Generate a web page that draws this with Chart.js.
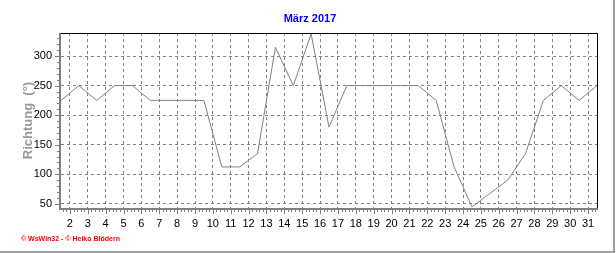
<!DOCTYPE html>
<html>
<head>
<meta charset="utf-8">
<script src="https://cdn.jsdelivr.net/npm/chart.js@4"></script>
<style>
  html, body { margin: 0; padding: 0; background: #fff; }
  #wrap { width: 616px; height: 253px; }
</style>
</head>
<body>
<div id="wrap"><canvas id="chart" width="616" height="253"></canvas></div>
<script>
// --- Daten: Windrichtung März 2017 (Tagesmittel) ---
const tage = [1, 2, 3, 4, 5, 6, 7, 8, 9, 10, 11, 12, 13, 14, 15, 16,
              17, 18, 19, 20, 21, 22, 23, 24, 25, 26, 27, 28, 29, 30, 31];
const richtung = [225, 250, 225, 250, 250, 225, 225, 225, 225, 112.5, 112.5, 135, 315, 250, 337.5, 180,
                  250, 250, 250, 250, 250, 225, 112.5, 45, 67.5, 90, 135, 225, 250, 225, 250];
const xTickLabels = [2, 3, 4, 5, 6, 7, 8, 9, 10, 11, 12, 13, 14, 15, 16, 17,
                     18, 19, 20, 21, 22, 23, 24, 25, 26, 27, 28, 29, 30, 31];
const yTickLabels = [50, 100, 150, 200, 250, 300];

const titel = 'März 2017';
const yTitel = 'Richtung  (°)';
const footer = '© WsWin32 - © Heiko Blödern';

// Werte liegen jeweils in der Tagesmitte
const punkte = tage.map((t, i) => ({ x: t + 0.5, y: richtung[i] }));

const GRID = '#808080';
const AXIS = '#808080';

// Rahmen, Achsen, kleine Striche, Titel, Fußzeile
const deko = {
    id: 'deko',
    afterDraw(chart) {
        const ctx = chart.ctx;
        const a = chart.chartArea;
        const xs = chart.scales.x;
        const ys = chart.scales.y;
        ctx.save();

        // schwarzer Rahmen oben/rechts
        ctx.strokeStyle = '#000';
        ctx.lineWidth = 1;
        ctx.beginPath();
        ctx.moveTo(a.left, a.top + 0.5);
        ctx.lineTo(a.right + 0.5, a.top + 0.5);
        ctx.lineTo(a.right + 0.5, a.bottom);
        ctx.stroke();

        // graue Achsen links/unten
        ctx.strokeStyle = AXIS;
        ctx.lineWidth = 2;
        ctx.beginPath();
        ctx.moveTo(a.left - 1, a.top);
        ctx.lineTo(a.left - 1, a.bottom + 2);
        ctx.moveTo(a.left - 1, a.bottom + 1);
        ctx.lineTo(a.right + 1, a.bottom + 1);
        ctx.stroke();

        // kleine Striche
        ctx.lineWidth = 1;
        ctx.beginPath();
        for (let v = 1.6; v <= 31.5; v += 0.2) {
            const px = Math.round(xs.getPixelForValue(v)) + 0.5;
            const major = Math.abs(v - Math.round(v)) < 0.01;
            ctx.moveTo(px, a.bottom + 2);
            ctx.lineTo(px, a.bottom + (major ? 6 : 4));
        }
        for (let v = 50; v <= 330; v += 10) {
            const py = Math.round(ys.getPixelForValue(v)) + 0.5;
            const major = v % 50 === 0;
            ctx.moveTo(a.left - 2, py);
            ctx.lineTo(a.left - (major ? 6 : 4), py);
        }
        ctx.stroke();

        // äußerer Rahmen
        ctx.strokeStyle = '#a0a0a0';
        ctx.lineWidth = 2;
        ctx.beginPath();
        ctx.moveTo(0, 252);
        ctx.lineTo(614, 252);
        ctx.lineTo(614, 0);
        ctx.stroke();

        // Titel
        ctx.fillStyle = '#0000ff';
        ctx.font = 'bold 11px "Liberation Sans", Arial, sans-serif';
        ctx.textAlign = 'center';
        ctx.textBaseline = 'middle';
        ctx.fillText(titel, 310, 19);

        // Achsentitel (senkrecht)
        ctx.save();
        ctx.translate(28, (a.top + a.bottom) / 2);
        ctx.rotate(-Math.PI / 2);
        ctx.fillStyle = '#999999';
        ctx.font = 'bold 13px "Liberation Sans", Arial, sans-serif';
        ctx.fillText(yTitel, 0, 0);
        ctx.restore();

        // Fußzeile
        ctx.fillStyle = '#ff0000';
        ctx.font = 'bold 7px "Liberation Sans", Arial, sans-serif';
        ctx.textAlign = 'left';
        ctx.fillText(footer, 21, 239);

        ctx.restore();
    }
};

new Chart(document.getElementById('chart'), {
    type: 'line',
    data: {
        datasets: [{
            data: punkte,
            borderColor: '#808080',
            borderWidth: 1,
            pointRadius: 0,
            tension: 0,
            fill: false
        }]
    },
    options: {
        responsive: false,
        animation: false,
        layout: { padding: { left: 0, right: 19, top: 33, bottom: 0 } },
        plugins: {
            legend: { display: false },
            tooltip: { enabled: false },
            title: { display: false }
        },
        scales: {
            x: {
                type: 'linear',
                min: 1.5,
                max: 31.5,
                afterBuildTicks: s => { s.ticks = xTickLabels.map(v => ({ value: v })); },
                afterFit: s => { s.height = 45; },
                grid: {
                    color: GRID,
                    lineWidth: 1,
                    drawTicks: false,
                    drawOnChartArea: true
                },
                border: { display: false, dash: [3, 3] },
                ticks: {
                    color: '#000',
                    padding: 9,
                    maxRotation: 0,
                    autoSkip: false,
                    font: { family: '"Liberation Sans", Arial, sans-serif', size: 11 }
                }
            },
            y: {
                min: 43,
                max: 339,
                afterBuildTicks: s => { s.ticks = yTickLabels.map(v => ({ value: v })); },
                afterFit: s => { s.width = 61; },
                grid: {
                    color: GRID,
                    lineWidth: 1,
                    drawTicks: false
                },
                border: { display: false, dash: [3, 3] },
                ticks: {
                    color: '#000',
                    padding: 9,
                    font: { family: '"Liberation Sans", Arial, sans-serif', size: 11 }
                }
            }
        }
    },
    plugins: [deko]
});
</script>
</body>
</html>
